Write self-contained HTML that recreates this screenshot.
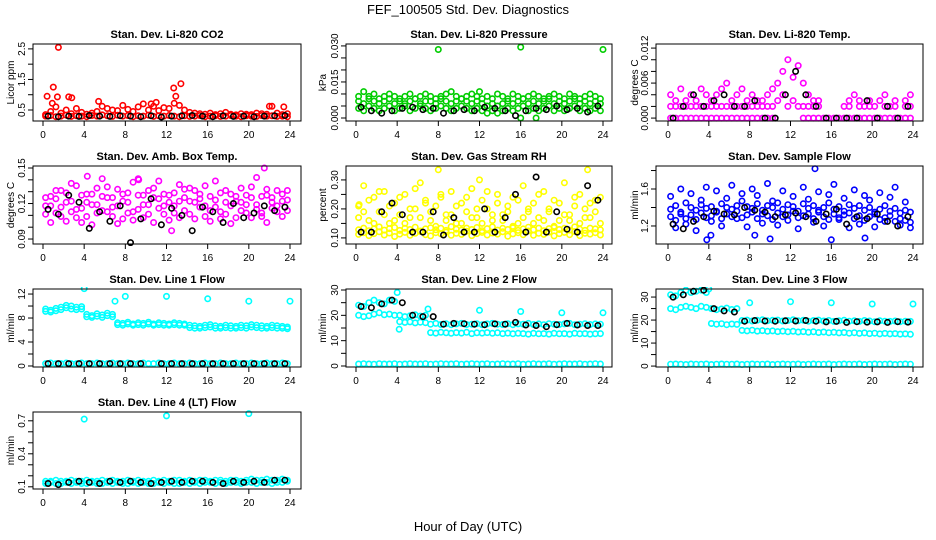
<!DOCTYPE html>
<html><head><meta charset="utf-8"><style>
body{margin:0;background:#fff}
svg{display:block;font-family:"Liberation Sans",sans-serif}
</style></head><body>
<svg id="chart" width="936" height="540" viewBox="0 0 936 540">
<text x="468" y="14" text-anchor="middle" font-size="13">FEF_100505  Std. Dev. Diagnostics</text>
<text x="468" y="531" text-anchor="middle" font-size="13">Hour of Day (UTC)</text>
</svg>
<script>
// ---------- data ----------
const hourTicks=[0,4,8,12,16,20,24];
const co2Base=[0.30,0.32,0.28,0.30,0.33,0.29,0.31,0.30,0.28,0.32,0.30,0.34,0.31,0.29,0.33,0.30,0.32,0.28,0.31,0.30,0.33,0.29,0.31,0.30,0.32,0.30,0.28,0.31,0.29,0.30,0.32,0.28,0.30,0.31,0.29,0.30,0.32,0.30,0.28,0.31,0.30,0.29,0.32,0.30,0.31,0.29,0.30,0.28];
const co2Upper=[0.35,0.45,0.6,0.4,0.5,0.38,0.55,0.42,0.36,0.40,0.45,0.62,0.55,0.50,0.48,0.65,0.52,0.45,0.60,0.70,0.50,0.62,0.48,0.58,0.55,0.72,0.65,0.50,0.42,0.40,0.38,0.36,0.40,0.35,0.38,0.42,0.36,0.34,0.38,0.36,0.35,0.40,0.38,0.36,0.62,0.40,0.35,0.38];
const co2OutX=[1.5,1.0,0.4,1.4,2.5,2.8,5.4,12.7,13.4,12.9,22,23.4,0.9,11,10.5];
const co2OutY=[2.55,1.25,0.95,0.93,0.93,0.9,0.78,1.22,1.36,0.95,0.62,0.6,0.72,0.75,0.7];
const co2Black=[0.30,0.28,0.30,0.29,0.32,0.30,0.29,0.31,0.30,0.28,0.31,0.27,0.30,0.31,0.32,0.30,0.28,0.31,0.29,0.30,0.28,0.30,0.31,0.32];

const presA=[0.007,0.006,0.008,0.007,0.006,0.007,0.008,0.006,0.007,0.006,0.007,0.008,0.006,0.007,0.007,0.006,0.008,0.007,0.006,0.007,0.008,0.007,0.006,0.007,0.006,0.005,0.006,0.005,0.006,0.007,0.006,0.007,0.008,0.006,0.007,0.006,0.007,0.008,0.006,0.007,0.006,0.007,0.008,0.006,0.007,0.006,0.007,0.006];
const presB=[0.004,0.003,0.005,0.004,0.003,0.004,0.005,0.003,0.004,0.005,0.003,0.004,0.005,0.004,0.003,0.004,0.005,0.004,0.003,0.004,0.005,0.004,0.003,0.004,0.003,0.002,0.003,0.002,0.003,0.004,0.003,0.004,0.005,0.003,0.004,0.003,0.004,0.005,0.003,0.004,0.003,0.004,0.005,0.003,0.004,0.003,0.004,0.003];
const presC=[0.009,0.011,0.009,0.010,0.008,0.009,0.010,0.009,0.008,0.009,0.010,0.008,0.009,0.010,0.009,0.008,0.009,0.010,0.011,0.009,0.008,0.009,0.010,0.009,0.008,0.009,0.008,0.010,0.009,0.008,0.010,0.009,0.008,0.009,0.010,0.009,0.008,0.009,0.010,0.009,0.008,0.010,0.009,0.008,0.009,0.010,0.009,0.008];
const presOutX=[8,16,24,12,16,17.5];
const presOutY=[0.0285,0.0295,0.0285,0.011,0.0,0.0];
const presBlack=[0.0045,0.003,0.002,0.003,0.004,0.0045,0.0035,0.004,0.002,0.003,0.0035,0.003,0.0045,0.004,0.003,0.001,0.003,0.004,0.0035,0.005,0.0035,0.004,0.0025,0.005];

const tempZero=[0,0,0,0,0,0,0,0,0,0,0,0,0,0,0,0,0,0,0,0,0,null,null,null,null,null,0,0,0,0,0,0,0,0,0,0,0,0,0,0,0,0,0,0,0,0,0,0];
const tempTwo=[0.002,0.002,0.002,0.002,0.002,0.002,0.002,0.002,0.002,0.002,0.002,0.002,0.002,0.002,0.002,0.002,0.002,0.002,0.002,0.002,0.002,0.003,0.004,0.002,0.003,0.002,0.002,0.002,0.002,0.002,null,null,null,null,0.002,0.002,null,0.002,0.002,0.002,0.002,null,0.002,0.002,0.002,null,0.002,0.002];
const tempScat=[0.004,0.003,0.005,0.003,0.004,0.003,0.005,0.004,0.003,0.004,0.005,0.006,0.003,0.004,0.005,0.003,0.004,0.003,0.003,0.004,0.005,0.006,0.008,0.010,0.007,0.009,0.006,0.004,0.003,0.003,null,null,null,null,null,0.003,0.004,0.003,null,0.003,null,0.003,0.004,null,0.003,null,0.003,0.004];
const tempBlack=[0,0.002,0.004,0.002,0.003,0.004,0.002,0.002,0.003,0,0,0.004,0.008,0.004,0.002,0,0,0,0,0.003,0,0.002,0,0.002];

const ambA=[0.118,0.126,0.112,0.131,0.105,0.122,0.135,0.116,0.109,0.128,0.119,0.141,0.113,0.125,0.132,0.107,0.121,0.138,0.115,0.127,0.111,0.133,0.124,0.118,0.106,0.129,0.136,0.114,0.122,0.131,0.117,0.109,0.126,0.139,0.113,0.121,0.128,0.108,0.133,0.119,0.125,0.142,0.112,0.127,0.116,0.131,0.122,0.114];
const ambB=[0.111,0.104,0.124,0.117,0.129,0.113,0.108,0.127,0.121,0.102,0.133,0.114,0.125,0.109,0.118,0.128,0.112,0.106,0.127,0.119,0.131,0.104,0.116,0.128,0.121,0.112,0.108,0.125,0.133,0.107,0.124,0.118,0.105,0.117,0.129,0.111,0.103,0.122,0.114,0.127,0.108,0.119,0.126,0.104,0.121,0.113,0.109,0.123];
const ambC=[0.125,0.118,0.131,0.109,0.121,0.137,0.115,0.104,0.128,0.119,0.112,0.126,0.134,0.117,0.103,0.122,0.129,0.113,0.141,0.108,0.119,0.125,0.139,0.111,0.127,0.118,0.122,0.132,0.111,0.121,0.128,0.135,0.114,0.123,0.107,0.131,0.118,0.126,0.121,0.112,0.134,0.115,0.109,0.132,0.125,0.118,0.128,0.131];
const ambOutX=[4.3,9.3,12.5,21.5];
const ambOutY=[0.143,0.140,0.097,0.150];
const ambBlack=[0.115,0.111,0.127,0.121,0.099,0.113,0.105,0.118,0.087,0.107,0.124,0.102,0.116,0.110,0.097,0.117,0.113,0.104,0.120,0.108,0.112,0.118,0.114,0.117];

const rhA=[0.112,0.118,0.108,0.115,0.121,0.110,0.117,0.105,0.113,0.119,0.109,0.116,0.122,0.111,0.107,0.118,0.114,0.120,0.109,0.116,0.112,0.123,0.108,0.115,0.119,0.110,0.117,0.113,0.121,0.106,0.114,0.118,0.111,0.124,0.109,0.116,0.112,0.120,0.107,0.115,0.119,0.111,0.122,0.108,0.116,0.113,0.118,0.110];
const rhB=[0.128,0.134,0.125,0.131,0.138,0.127,0.132,0.136,0.126,0.133,0.129,0.137,0.124,0.131,0.135,0.128,0.133,0.126,0.139,0.130,0.127,0.134,0.129,0.136,0.125,0.132,0.138,0.127,0.133,0.129,0.135,0.126,0.131,0.137,0.128,0.134,0.125,0.132,0.136,0.129,0.133,0.127,0.138,0.130,0.126,0.134,0.131,0.128];
const rhScat=[0.21,0.28,0.16,0.24,0.19,0.26,0.15,0.22,0.18,0.25,0.17,0.20,0.29,0.23,0.16,0.21,0.24,0.18,0.26,0.15,0.22,0.19,0.27,0.17,0.23,0.20,0.16,0.25,0.18,0.21,0.24,0.15,0.28,0.19,0.22,0.17,0.26,0.20,0.23,0.16,0.29,0.18,0.21,0.25,0.17,0.22,0.19,0.24];
const rhScat2=[0.17,0.19,0.23,0.15,0.26,0.18,0.21,0.16,0.24,0.15,0.20,0.27,0.17,0.22,0.19,0.14,0.25,0.16,0.18,0.21,0.15,0.24,0.17,0.20,0.15,0.26,0.18,0.22,0.16,0.19,0.14,0.23,0.17,0.20,0.15,0.25,0.16,0.19,0.14,0.22,0.18,0.16,0.24,0.15,0.20,0.17,0.23,0.15];
const rhOutX=[8,22.5,12,0.3];
const rhOutY=[0.335,0.335,0.30,0.215];
const rhBlack=[0.12,0.12,0.19,0.22,0.18,0.12,0.12,0.19,0.11,0.17,0.12,0.12,0.20,0.12,0.17,0.25,0.12,0.31,0.12,0.19,0.13,0.12,0.28,0.23];

const flowA=[1.38,1.42,1.35,1.45,1.40,1.37,1.43,1.39,1.41,1.36,1.44,1.40,1.38,1.42,1.47,1.41,1.39,1.44,1.37,1.42,1.40,1.45,1.38,1.43,1.41,1.36,1.44,1.39,1.42,1.37,1.40,1.45,1.38,1.41,1.36,1.43,1.39,1.42,1.37,1.40,1.35,1.38,1.42,1.36,1.39,1.34,1.37,1.35];
const flowB=[1.30,1.26,1.33,1.28,1.32,1.27,1.34,1.29,1.31,1.35,1.28,1.33,1.30,1.36,1.29,1.32,1.35,1.28,1.33,1.31,1.27,1.34,1.30,1.32,1.36,1.29,1.31,1.33,1.28,1.35,1.30,1.27,1.33,1.29,1.32,1.34,1.28,1.31,1.26,1.30,1.33,1.27,1.29,1.31,1.25,1.28,1.26,1.24];
const flowScat=[1.52,1.18,1.60,1.22,1.55,1.15,1.48,1.62,1.25,1.58,1.20,1.50,1.64,1.28,1.55,1.19,1.60,1.53,1.23,1.66,1.47,1.21,1.58,1.26,1.52,1.17,1.62,1.49,1.24,1.57,1.20,1.54,1.65,1.27,1.50,1.18,1.59,1.22,1.53,1.48,1.19,1.56,1.25,1.51,1.62,1.21,1.46,1.18];
const flowOutX=[3.8,10,14.4,8.5,16,19.3,4.2];
const flowOutY=[1.05,1.06,1.82,1.10,1.05,1.07,1.10];
const flowBlack=[1.22,1.17,1.25,1.30,1.36,1.33,1.32,1.40,1.37,1.35,1.30,1.32,1.34,1.30,1.25,1.33,1.38,1.22,1.30,1.28,1.33,1.25,1.20,1.30];

const l1A=[9.5,9.3,9.6,9.8,10.1,10.0,9.8,9.9,8.6,8.4,8.7,8.5,8.8,8.6,7.2,7.1,7.3,7.0,7.2,7.1,7.3,7.0,7.2,7.1,7.0,7.2,7.1,7.0,6.8,6.7,6.6,6.8,6.9,6.7,6.6,6.8,6.7,6.6,6.8,6.7,6.9,6.8,6.7,6.6,6.8,6.7,6.6,6.5];
const l1B=[9.1,9.0,9.2,9.4,9.7,9.5,9.4,9.5,8.2,8.1,8.3,8.1,8.4,8.2,6.9,6.8,7.0,6.8,6.9,6.8,7.0,6.8,6.9,6.8,6.8,6.9,6.8,6.8,6.4,6.3,6.3,6.4,6.5,6.3,6.3,6.4,6.3,6.3,6.4,6.3,6.5,6.4,6.3,6.3,6.4,6.3,6.3,6.2];
const l1Low=[0.4,0.5,0.4,0.4,0.5,0.4,0.4,0.5,0.4,0.4,0.5,0.4,0.4,0.5,0.4,0.4,0.5,0.4,0.4,0.5,0.4,0.4,0.5,0.4,0.4,0.5,0.4,0.4,0.5,0.4,0.4,0.5,0.4,0.4,0.5,0.4,0.4,0.5,0.4,0.4,0.5,0.4,0.4,0.5,0.4,0.4,0.5,0.4];
const l1OutX=[4,7,8,12,16,20,24];
const l1OutY=[12.9,10.8,11.6,11.6,11.2,10.8,10.8];
const l1Black=[0.4,0.4,0.4,0.4,0.4,0.4,0.4,0.4,0.4,0.4,null,0.4,0.4,0.4,0.4,0.4,0.4,0.4,0.4,0.4,0.4,0.4,0.4,0.4];

const l2A=[24,23.5,25,26,25,24.5,26,25.5,20,19.5,19.8,20.2,19.7,20,16.5,16.8,16.4,16.7,16.3,16.6,16.8,16.4,16.5,16.7,16.3,16.6,16.8,16.5,16.4,16.7,16.3,16.6,16.5,16.8,16.4,16.6,16.3,16.7,16.5,16.4,16.6,16.8,16.3,16.5,16.7,16.4,16.6,16.5];
const l2B=[20,19.5,19.8,20.5,21,20.2,20.5,20,17.5,17.2,17.4,17.0,17.3,17.1,13.2,13.0,13.3,13.1,12.9,13.2,13.0,13.3,12.8,13.1,13.0,13.2,12.9,13.1,12.8,13.0,12.7,12.9,12.8,12.6,12.9,12.7,12.8,12.6,12.9,12.7,12.8,12.6,12.9,12.7,12.8,12.6,12.7,12.8];
const l2Low=[0.8,0.9,0.8,0.7,0.9,0.8,0.8,0.9,0.7,0.8,0.9,0.8,0.8,0.9,0.7,0.8,0.9,0.8,0.8,0.9,0.7,0.8,0.9,0.8,0.8,0.9,0.7,0.8,0.9,0.8,0.8,0.9,0.7,0.8,0.9,0.8,0.8,0.9,0.7,0.8,0.9,0.8,0.8,0.9,0.7,0.8,0.9,0.8];
const l2OutX=[4,4.2,7,12,16,20,24];
const l2OutY=[29,14.5,22.5,22,21.5,21,21];
const l2Black=[23.5,23,24.5,26,25,20,19.5,19.5,16.5,16.8,16.7,16.5,16.3,16.6,16.5,17.2,16.2,16.0,15.5,16.3,16.8,16.2,16.0,16.0];

const l3A=[31,30.5,32,33,32,32.5,33,32,25,24.5,24.8,25.2,24.6,25,19.8,20.0,19.6,19.9,20.1,19.7,19.9,20.0,19.6,19.8,20.1,19.7,19.9,19.5,19.8,20.0,19.6,19.8,19.4,19.7,19.9,19.5,19.7,19.4,19.8,19.6,19.3,19.7,19.5,19.4,19.6,19.3,19.5,19.4];
const l3B=[25,24.5,25.5,26,25.5,25,26,25.5,18.5,18.2,18.4,18.0,18.3,18.1,15.5,15.3,15.6,15.2,15.4,15.1,15.3,15.0,15.2,14.9,15.1,14.8,15.0,14.7,14.9,14.6,14.8,14.5,14.7,14.4,14.6,14.3,14.5,14.2,14.4,14.1,14.3,14.0,14.2,14.0,14.1,13.9,14.0,13.8];
const l3Low=[0.8,0.9,0.8,0.7,0.9,0.8,0.8,0.9,0.7,0.8,0.9,0.8,0.8,0.9,0.7,0.8,0.9,0.8,0.8,0.9,0.7,0.8,0.9,0.8,0.8,0.9,0.7,0.8,0.9,0.8,0.8,0.9,0.7,0.8,0.9,0.8,0.8,0.9,0.7,0.8,0.9,0.8,0.8,0.9,0.7,0.8,0.9,0.8];
const l3OutX=[4,8,12,16,20,24];
const l3OutY=[33.5,27.5,28,27.5,27,27];
const l3Black=[30,31,32.5,33,25,24,23.5,19.5,19.8,19.6,19.5,19.7,19.6,19.8,19.5,19.2,19.4,19.0,19.3,19.1,19.2,19.0,19.3,19.1];

const l4A=[0.13,0.14,0.13,0.13,0.14,0.13,0.14,0.13,0.13,0.14,0.13,0.13,0.14,0.13,0.14,0.13,0.13,0.14,0.13,0.14,0.13,0.13,0.14,0.13,0.14,0.13,0.13,0.14,0.13,0.14,0.13,0.14,0.14,0.13,0.14,0.13,0.14,0.14,0.13,0.14,0.14,0.13,0.14,0.14,0.13,0.14,0.14,0.15];
const l4B=[0.15,0.15,0.16,0.15,0.15,0.16,0.15,0.15,0.16,0.15,0.15,0.16,0.15,0.16,0.15,0.15,0.16,0.15,0.16,0.15,0.15,0.16,0.15,0.16,0.15,0.16,0.16,0.15,0.16,0.15,0.16,0.16,0.15,0.16,0.16,0.15,0.16,0.16,0.15,0.16,0.17,0.16,0.16,0.17,0.16,0.16,0.17,0.16];
const l4OutX=[4,12,20];
const l4OutY=[0.715,0.745,0.765];
const l4Black=[0.13,0.12,0.14,0.15,0.14,0.13,0.15,0.14,0.15,0.14,0.13,0.14,0.15,0.14,0.15,0.15,0.14,0.13,0.15,0.14,0.15,0.14,0.16,0.16];

// ---------- layout ----------
const cols=[{bl:33,br:301,x0:43,x24:290,yl:10},{bl:346,br:612,x0:356,x24:603,yl:322},{bl:656,br:923,x0:668,x24:913,yl:634}];
const rows=[[44,121],[166,244],[289,367],[412,489]];
const RED='#ff0000',GRN='#00cd00',MAG='#ff00ff',YEL='#ffff00',BLU='#0000ff',CYN='#00ffff',BLK='#000000';
const h48=[];for(let i=0;i<48;i++)h48.push(i*0.5+0.25);
const h24=[];for(let i=0;i<24;i++)h24.push(i+0.5);

const panels=[
 {name:'co2',title:'Stan. Dev. Li-820 CO2',ylab:'Licor ppm',c:0,r:0,ylim:[0.14,2.66],ticks:[0.5,1,1.5,2,2.5],labels:['0.5','','1.5','','2.5'],
  s:[[h48,co2Base,RED],[h48,co2Upper,RED],[co2OutX,co2OutY,RED],[h24,co2Black,BLK]]},
 {name:'pressure',title:'Stan. Dev. Li-820 Pressure',ylab:'kPa',c:1,r:0,ylim:[-0.00125,0.0308],ticks:[0,0.005,0.01,0.015,0.02,0.025,0.03],labels:['0.000','','','0.015','','','0.030'],
  s:[[h48,presA,GRN],[h48,presB,GRN],[h48,presC,GRN],[presOutX,presOutY,GRN],[h24,presBlack,BLK]]},
 {name:'temp',title:'Stan. Dev. Li-820 Temp.',ylab:'degrees C',c:2,r:0,ylim:[-0.0005,0.0127],ticks:[0,0.002,0.004,0.006,0.008,0.01,0.012],labels:['0.000','','','0.006','','','0.012'],
  s:[[h48,tempZero,MAG],[h48,tempTwo,MAG],[h48,tempScat,MAG],[h24,tempBlack,BLK]]},
 {name:'amb-temp',title:'Stan. Dev. Amb. Box Temp.',ylab:'degrees C',c:0,r:1,ylim:[0.0858,0.1517],ticks:[0.09,0.1,0.11,0.12,0.13,0.14,0.15],labels:['0.09','','','0.12','','','0.15'],
  s:[[h48,ambA,MAG],[h48,ambB,MAG],[h48,ambC,MAG],[ambOutX,ambOutY,MAG],[h24,ambBlack,BLK]]},
 {name:'gas-rh',title:'Stan. Dev. Gas Stream RH',ylab:'percent',c:1,r:1,ylim:[0.079,0.348],ticks:[0.1,0.15,0.2,0.25,0.3],labels:['0.10','','0.20','','0.30'],
  s:[[h48,rhA,YEL],[h48,rhB,YEL],[h48,rhScat,YEL],[h48,rhScat2,YEL],[rhOutX,rhOutY,YEL],[h24,rhBlack,BLK]]},
 {name:'sample-flow',title:'Stan. Dev. Sample Flow',ylab:'ml/min',c:2,r:1,ylim:[1.005,1.849],ticks:[1.2,1.4,1.6,1.8],labels:['1.2','','1.6',''],
  s:[[h48,flowA,BLU],[h48,flowB,BLU],[h48,flowScat,BLU],[flowOutX,flowOutY,BLU],[h24,flowBlack,BLK]]},
 {name:'line1',title:'Stan. Dev. Line 1 Flow',ylab:'ml/min',c:0,r:2,ylim:[-0.17,12.84],ticks:[0,2,4,6,8,10,12],labels:['0','','4','','8','','12'],
  s:[[h48,l1A,CYN],[h48,l1B,CYN],[h48,l1Low,CYN],[l1OutX,l1OutY,CYN],[h24,l1Black,BLK]]},
 {name:'line2',title:'Stan. Dev. Line 2 Flow',ylab:'ml/min',c:1,r:2,ylim:[-0.4,30.4],ticks:[0,5,10,15,20,25,30],labels:['0','','10','','20','','30'],
  s:[[h48,l2A,CYN],[h48,l2B,CYN],[h48,l2Low,CYN],[l2OutX,l2OutY,CYN],[h24,l2Black,BLK]]},
 {name:'line3',title:'Stan. Dev. Line 3 Flow',ylab:'ml/min',c:2,r:2,ylim:[-0.4,33.5],ticks:[0,5,10,15,20,25,30],labels:['0','','10','','20','','30'],
  s:[[h48,l3A,CYN],[h48,l3B,CYN],[h48,l3Low,CYN],[l3OutX,l3OutY,CYN],[h24,l3Black,BLK]]},
 {name:'line4',title:'Stan. Dev. Line 4 (LT) Flow',ylab:'ml/min',c:0,r:3,ylim:[0.08,0.78],ticks:[0.1,0.2,0.3,0.4,0.5,0.6,0.7],labels:['0.1','','','0.4','','','0.7'],
  s:[[h48,l4A,CYN],[h48,l4B,CYN],[l4OutX,l4OutY,CYN],[h24,l4Black,BLK]]}
];

const NS='http://www.w3.org/2000/svg';
const svg=document.getElementById('chart');
function mk(tag,attrs,parent){const e=document.createElementNS(NS,tag);for(const k in attrs)e.setAttribute(k,attrs[k]);(parent||svg).appendChild(e);return e;}

panels.forEach(p=>{
 const C=cols[p.c],[top,bot]=rows[p.r];
 const sx=x=>C.x0+x/24*(C.x24-C.x0);
 const sy=y=>bot-(y-p.ylim[0])/(p.ylim[1]-p.ylim[0])*(bot-top);
 const g=mk('g',{});
 
 
 const clip=mk('clipPath',{id:'clip-'+p.name},g);
 mk('rect',{x:C.bl,y:top-2,width:C.br-C.bl,height:bot-top+4},clip);
 const pts=mk('g',{'clip-path':'url(#clip-'+p.name+')',fill:'none','stroke-width':'1.6'},g);
 
 
 p.s.forEach(([xs,ys,col])=>{
  ys.forEach((v,i)=>{
   if(v===null||v===undefined||xs[i]===undefined)return;
   const c=mk('circle',{cx:sx(xs[i]).toFixed(1),cy:sy(v).toFixed(1),r:2.7,stroke:col},pts);
   
   
  });
 });
 const box=mk('rect',{x:C.bl,y:top,width:C.br-C.bl,height:bot-top,fill:'none',stroke:'#000','stroke-width':1},g);
 
 
 const t=mk('text',{x:(C.bl+C.br)/2,y:top-6,'text-anchor':'middle','font-size':11,'font-weight':'bold'},g);
 t.textContent=p.title;
 
 
 const yl=mk('text',{x:0,y:0,'text-anchor':'middle','font-size':10,transform:`translate(${C.yl+4},${(top+bot)/2}) rotate(-90)`},g);
 yl.textContent=p.ylab;
 
 
 mk('line',{x1:sx(0),x2:sx(24),y1:bot,y2:bot,stroke:'#000'},g);
 hourTicks.forEach(h=>{
  mk('line',{x1:sx(h),x2:sx(h),y1:bot,y2:bot+5,stroke:'#000'},g);
  const tl=mk('text',{x:sx(h),y:bot+17,'text-anchor':'middle','font-size':10},g);
  tl.textContent=h;
  
  
 });
 mk('line',{x1:C.bl,x2:C.bl,y1:sy(p.ticks[0]),y2:sy(p.ticks[p.ticks.length-1]),stroke:'#000'},g);
 p.ticks.forEach((v,i)=>{
  mk('line',{x1:C.bl-5,x2:C.bl,y1:sy(v),y2:sy(v),stroke:'#000'},g);
  if(p.labels[i]){
   const tl=mk('text',{x:0,y:0,'text-anchor':'middle','font-size':10,transform:`translate(${C.bl-8},${sy(v)}) rotate(-90)`},g);
   tl.textContent=p.labels[i];
   
   
  }
 });
});
</script>
</body></html>
